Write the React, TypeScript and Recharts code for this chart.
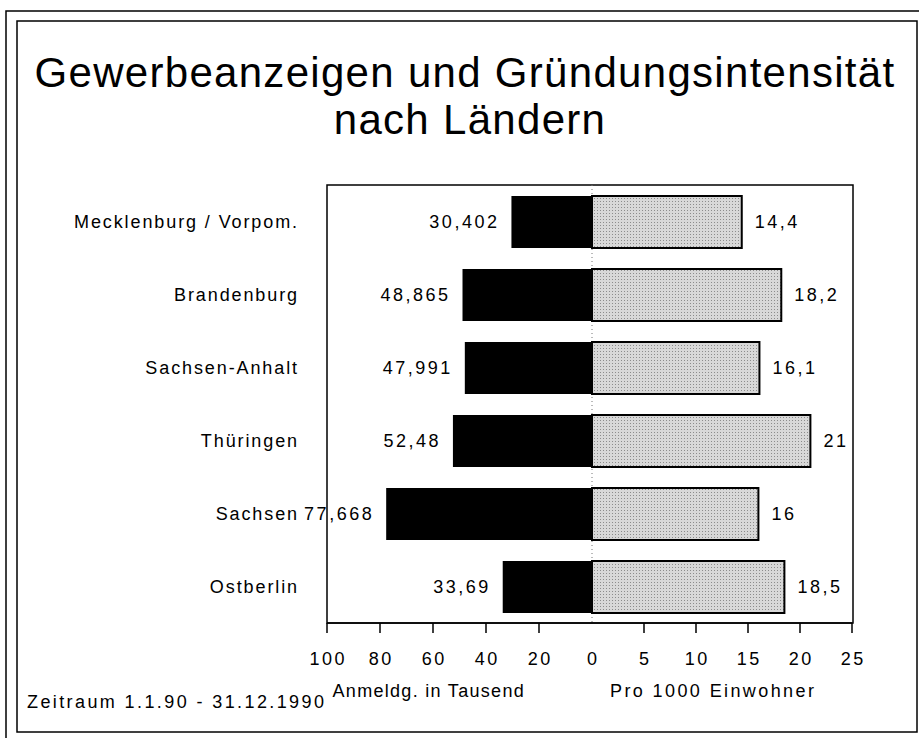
import React from "react";
import { BarChart, Bar, XAxis, YAxis, CartesianGrid, LabelList } from "recharts";

// Länder und Werte (Anmeldungen in Tausend / pro 1000 Einwohner)
const laender = [
  "Mecklenburg / Vorpom.",
  "Brandenburg",
  "Sachsen-Anhalt",
  "Thüringen",
  "Sachsen",
  "Ostberlin",
];
const anmeldungen = [30.402, 48.865, 47.991, 52.48, 77.668, 33.69];
const proEinwohner = [14.4, 18.2, 16.1, 21, 16, 18.5];
const leftTicks = [0, 20, 40, 60, 80, 100];
const rightTicks = [0, 5, 10, 15, 20, 25];

const data = laender.map((name, i) => ({
  name,
  anm: anmeldungen[i],
  pro: proEinwohner[i],
}));

const FONT = '"Liberation Sans", Arial, Helvetica, sans-serif';
const W = 919;
const H = 738;
const TOP = 185;
const BOTTOM = 623;
const LEFT = 327;
const ZERO = 592;
const RIGHT = 852;
const TICK_SIZE = 10;
const TICK_MARGIN = 19;

const deComma = (v: number) => String(v).replace(".", ",");

const smallText = {
  fontFamily: FONT,
  fontSize: 18,
  letterSpacing: "2.5px",
  fill: "#000",
};

function AxisTick(props: any) {
  const { x, y, payload, hideZeroLabel } = props;
  const v = payload.value;
  const axisY = y - TICK_SIZE - TICK_MARGIN;
  return (
    <g>
      {v !== 0 && (
        <line x1={x} x2={x} y1={axisY} y2={axisY + TICK_SIZE} stroke="#000" strokeWidth={1.5} />
      )}
      {!(hideZeroLabel && v === 0) && (
        <text x={x + 1.2} y={y} dy="0.71em" textAnchor="middle" style={smallText}>
          {v}
        </text>
      )}
    </g>
  );
}

function CategoryTick(props: any) {
  const { x, y, payload } = props;
  return (
    <text
      x={x}
      y={y}
      dy="0.36em"
      textAnchor="end"
      style={{ ...smallText, letterSpacing: "1.9px" }}
    >
      {payload.value}
    </text>
  );
}

function LeftValueLabel(p: any) {
  const vb = p.viewBox || p;
  const x = vb.x ?? p.x;
  const w = vb.width ?? p.width;
  const y = vb.y ?? p.y;
  const h = vb.height ?? p.height;
  const edge = Math.min(x, x + w);
  return (
    <text x={edge - 12} y={y + h / 2} dy="0.36em" textAnchor="end" style={smallText}>
      {deComma(p.value)}
    </text>
  );
}

function RightValueLabel(p: any) {
  const vb = p.viewBox || p;
  const x = vb.x ?? p.x;
  const w = vb.width ?? p.width;
  const y = vb.y ?? p.y;
  const h = vb.height ?? p.height;
  const edge = Math.max(x, x + w);
  return (
    <text x={edge + 13} y={y + h / 2} dy="0.36em" textAnchor="start" style={smallText}>
      {deComma(p.value)}
    </text>
  );
}

export default function App() {
  const titleStyle = { fontFamily: FONT, fontSize: 42, letterSpacing: "1.3px", fill: "#000" };
  return (
    <div
      style={{
        position: "absolute",
        left: 0,
        top: 0,
        width: W,
        height: H,
        background: "#fff",
        overflow: "hidden",
      }}
    >
      <svg width={W} height={H} style={{ position: "absolute", left: 0, top: 0 }}>
        <defs>
          <pattern id="stipple" width="3" height="3" patternUnits="userSpaceOnUse">
            <rect width="3" height="3" fill="#d8d8d8" />
            <rect width="1" height="1" fill="#8c8c8c" />
          </pattern>
        </defs>
        <rect x={6} y={11} width={940} height={760} fill="none" stroke="#000" strokeWidth={1.5} />
        <rect x={17} y={21} width={900} height={711} fill="none" stroke="#000" strokeWidth={1.5} />
        <rect
          x={LEFT}
          y={TOP}
          width={RIGHT - LEFT + 1}
          height={BOTTOM - TOP}
          fill="none"
          stroke="#000"
          strokeWidth={1.5}
        />
        <text x={465} y={87} textAnchor="middle" style={titleStyle}>
          Gewerbeanzeigen und Gründungsintensität
        </text>
        <text x={470} y={134} textAnchor="middle" style={titleStyle}>
          nach Ländern
        </text>
        <text x={27} y={708} style={{ ...smallText, letterSpacing: "2.4px" }}>
          Zeitraum 1.1.90 - 31.12.1990
        </text>
        <text x={525} y={697} textAnchor="end" style={{ ...smallText, letterSpacing: "1.3px" }}>
          Anmeldg. in Tausend
        </text>
        <text x={610} y={697} style={{ ...smallText, letterSpacing: "2.4px" }}>
          Pro 1000 Einwohner
        </text>
      </svg>

      <div style={{ position: "absolute", left: 0, top: 0 }}>
        <BarChart
          width={W}
          height={H}
          data={data}
          layout="vertical"
          margin={{ top: TOP, right: W - ZERO, bottom: 0, left: 0 }}
          barSize={52}
        >
          <CartesianGrid
            horizontal={false}
            vertical
            verticalCoordinatesGenerator={({ offset }: any) => [offset.left + offset.width]}
            stroke="#777"
            strokeDasharray="1 3"
          />
          <XAxis
            type="number"
            dataKey="anm"
            domain={[0, 100]}
            ticks={leftTicks}
            reversed
            interval={0}
            height={H - BOTTOM}
            tickSize={TICK_SIZE}
            tickMargin={TICK_MARGIN}
            tickLine={false}
            axisLine={{ stroke: "#000", strokeWidth: 1.5 }}
            tick={<AxisTick />}
          />
          <YAxis
            type="category"
            dataKey="name"
            width={LEFT}
            interval={0}
            tickSize={0}
            tickMargin={28}
            axisLine={false}
            tickLine={false}
            tick={<CategoryTick />}
          />
          <Bar dataKey="anm" fill="#000" isAnimationActive={false}>
            <LabelList dataKey="anm" content={LeftValueLabel} />
          </Bar>
        </BarChart>
      </div>

      <div style={{ position: "absolute", left: 0, top: 0 }}>
        <BarChart
          width={W}
          height={H}
          data={data}
          layout="vertical"
          margin={{ top: TOP, right: W - RIGHT, bottom: 0, left: ZERO }}
          barSize={52}
        >
          <XAxis
            type="number"
            dataKey="pro"
            domain={[0, 25]}
            ticks={rightTicks}
            interval={0}
            height={H - BOTTOM}
            tickSize={TICK_SIZE}
            tickMargin={TICK_MARGIN}
            tickLine={false}
            axisLine={{ stroke: "#000", strokeWidth: 1.5 }}
            tick={<AxisTick hideZeroLabel />}
          />
          <YAxis type="category" dataKey="name" hide width={0} />
          <Bar
            dataKey="pro"
            fill="url(#stipple)"
            stroke="#000"
            strokeWidth={2}
            isAnimationActive={false}
          >
            <LabelList dataKey="pro" content={RightValueLabel} />
          </Bar>
        </BarChart>
      </div>
    </div>
  );
}
